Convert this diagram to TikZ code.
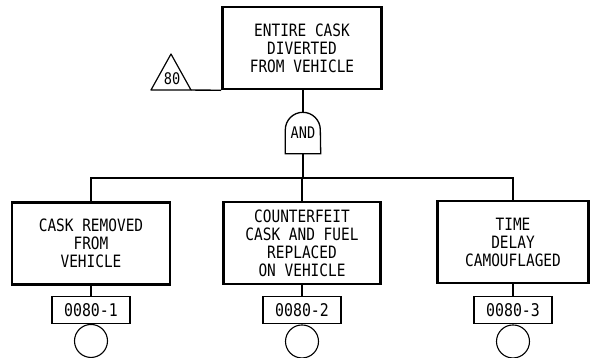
\documentclass[tikz,border=0pt]{standalone}
\usepackage{fontspec}
\setmonofont{DejaVu Sans Mono}[FakeStretch=0.85]
\usepackage{tikz}
\usetikzlibrary{shapes}
\usetikzlibrary{positioning}
\tikzset{
  treenode/.style = {align=center, inner sep=0pt, text centered,
    font=\ttfamily\fontsize{17}{18}\selectfont},
  event_node/.style = {treenode, rectangle, draw=black,
    line width=2.6pt, minimum height=82pt},% evenement
  id_node/.style = {treenode, rectangle, draw=black, line width=1.1pt,
    minimum width=78pt, minimum height=27pt,
    font=\ttfamily\fontsize{17.5}{18}\selectfont},% numero
  basic_node/.style = {circle, draw=black, line width=1.1pt,
    minimum size=33pt, inner sep=0pt},% evenement de base
  gate_node/.style = {treenode, font=\ttfamily\fontsize{16}{17}\selectfont,
    minimum width=35pt, minimum height=41pt},% porte ET
  wire/.style = {line width=1.4pt}
}

\begin{document}
\begin{tikzpicture}[x=1pt, y=1pt]
      \useasboundingbox (0,0) rectangle (591,-357);
      \node [event_node, minimum width=159pt] (top) at (302,-48)
          {ENTIRE CASK\\DIVERTED\\FROM VEHICLE};
      \node [gate_node] (gate) at (303,-133) {AND};
      \draw [line width=1.3pt] (gate.south west) -- ([yshift=-17.5pt]gate.north west)
          arc[start angle=180, end angle=0, radius=17.5pt] -- (gate.south east) -- cycle;
      % triangle de transfert
      \coordinate (tri_l) at (151,-90);
      \coordinate (tri_r) at (191,-90);
      \coordinate (tri_t) at (171,-54);
      \draw [line width=1.2pt, line join=round] (tri_l) -- (tri_t) -- (tri_r) -- cycle;
      \node [treenode, font=\ttfamily\fontsize{16}{17}\selectfont] (tri) at (172,-79) {80};
      \draw [wire] (tri_r) -- (top.south west);
      % evenements du niveau 2
      \node [event_node, minimum width=158pt] (left) at (91,-243.5)
          {CASK REMOVED\\FROM\\VEHICLE};
      \node [event_node, minimum width=157pt] (mid) at (302,-243)
          {COUNTERFEIT\\CASK AND FUEL\\REPLACED\\ON VEHICLE};
      \node [event_node, minimum width=151pt] (right) at (513,-242)
          {TIME\\DELAY\\CAMOUFLAGED};
      \node [id_node, below=10pt of left] (id_a) {0080-1};
      \node [id_node, below=11pt of mid] (id_b) {0080-2};
      \node [id_node, below=12pt of right] (id_c) {0080-3};
      \node [basic_node, below=0pt of id_a] (base_a) {};
      \node [basic_node, below=0pt of id_b] (base_b) {};
      \node [basic_node, below=0pt of id_c] (base_c) {};
      % liaisons
      \coordinate (bus) at (0,-178);
      \draw [wire] (top.south -| gate.north) -- (gate.north);
      \draw [wire] (gate.south) -- (gate.south |- bus);
      \draw [wire] (left.north) -- (left.north |- bus) -- (right.north |- bus) -- (right.north);
      \draw [wire] (mid.north) -- (mid.north |- bus);
      \draw [wire] (left.south) -- (id_a.north);
      \draw [wire] (mid.south) -- (id_b.north);
      \draw [wire] (right.south) -- (id_c.north);
    \end{tikzpicture}
\end{document}
